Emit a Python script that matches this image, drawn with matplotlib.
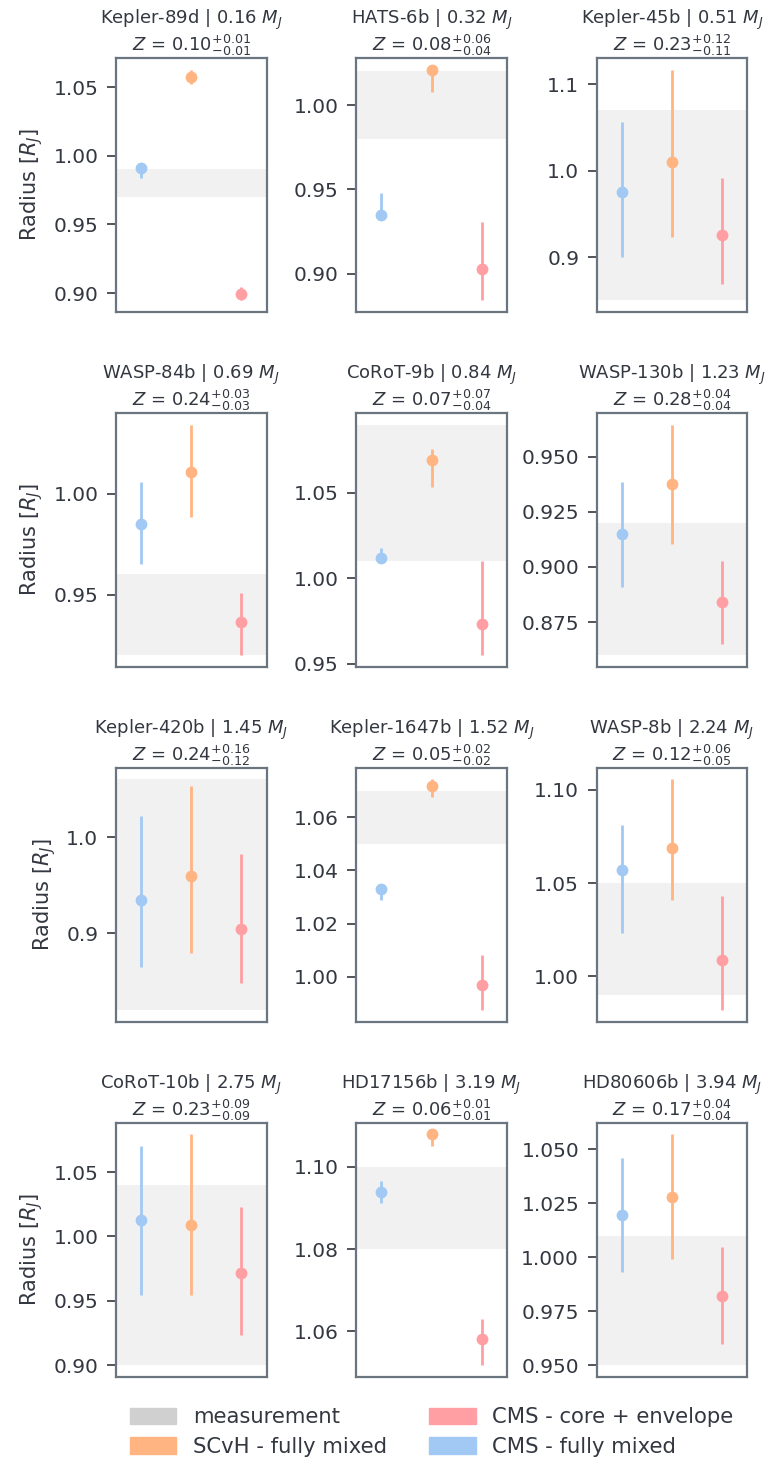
import numpy as np
import matplotlib
matplotlib.use("Agg")
import matplotlib.pyplot as plt
from matplotlib.patches import Patch
from matplotlib.ticker import MaxNLocator

# === DATA ===
planets = ["Kepler-89d", "HATS-6b", "Kepler-45b", "WASP-84b", "CoRoT-9b", "WASP-130b",
           "Kepler-420b", "Kepler-1647b", "WASP-8b", "CoRoT-10b", "HD17156b", "HD80606b"]
masses = [0.16, 0.32, 0.51, 0.69, 0.84, 1.23, 1.45, 1.52, 2.24, 2.75, 3.19, 3.94]
z_med = [0.10, 0.08, 0.23, 0.24, 0.07, 0.28, 0.24, 0.05, 0.12, 0.23, 0.06, 0.17]
z_up = [0.01, 0.06, 0.12, 0.03, 0.07, 0.04, 0.16, 0.02, 0.06, 0.09, 0.01, 0.04]
z_dn = [0.01, 0.04, 0.11, 0.03, 0.04, 0.04, 0.12, 0.02, 0.05, 0.09, 0.01, 0.04]

# measured radius and 1-sigma
r_meas = [0.98, 1.00, 0.96, 0.94, 1.05, 0.89, 0.94, 1.06, 1.02, 0.97, 1.09, 0.98]
r_meas_err = [0.01, 0.02, 0.11, 0.02, 0.04, 0.03, 0.12, 0.01, 0.03, 0.07, 0.01, 0.03]

# CMS - fully mixed: median, lower, upper
cms_mix = [0.991, 0.935, 0.975, 0.985, 1.012, 0.915, 0.935, 1.033, 1.057, 1.013, 1.094, 1.0196]
cms_mix_lo = [0.984, 0.935, 0.900, 0.965, 1.012, 0.891, 0.865, 1.0287, 1.0234, 0.9545, 1.0913, 0.993]
cms_mix_hi = [0.991, 0.948, 1.056, 1.006, 1.018, 0.9385, 1.0225, 1.033, 1.081, 1.0705, 1.0965, 1.046]

# SCvH - fully mixed
scvh_mix = [1.057, 1.021, 1.0105, 1.0109, 1.0692, 0.9376, 0.9595, 1.0716, 1.0686, 1.0086, 1.1079, 1.0277]
scvh_mix_lo = [1.0524, 1.0078, 0.9233, 0.9884, 1.0535, 0.9105, 0.880, 1.0677, 1.0407, 0.9545, 1.1052, 0.9992]
scvh_mix_hi = [1.0627, 1.021, 1.1172, 1.0342, 1.0759, 0.9645, 1.053, 1.0742, 1.1054, 1.0792, 1.1079, 1.0568]

# CMS - core + envelope
cms_core = [0.8995, 0.9028, 0.926, 0.9366, 0.9735, 0.8841, 0.9045, 0.9968, 1.0087, 0.9719, 1.0581, 0.9821]
cms_core_lo = [0.8947, 0.8842, 0.8686, 0.9204, 0.9549, 0.8652, 0.8484, 0.9874, 0.9819, 0.9234, 1.0518, 0.9597]
cms_core_hi = [0.9044, 0.9306, 0.9912, 0.9508, 1.0104, 0.9029, 0.9828, 1.0082, 1.0428, 1.0230, 1.063, 1.0045]

models = [
    ("CMS - fully mixed", "#a1c9f4", cms_mix, cms_mix_lo, cms_mix_hi),
    ("SCvH - fully mixed", "#ffb482", scvh_mix, scvh_mix_lo, scvh_mix_hi),
    ("CMS - core + envelope", "#ff9fa3", cms_core, cms_core_lo, cms_core_hi),
]

# === STYLE ===
spine_col = "#6b7580"
text_col = "#333740"
plt.rcParams["font.family"] = "DejaVu Sans"
plt.rcParams["text.color"] = text_col
plt.rcParams["axes.labelcolor"] = text_col
plt.rcParams["ytick.color"] = text_col
plt.rcParams["mathtext.fontset"] = "dejavusans"

fig, axes = plt.subplots(4, 3, figsize=(7.75, 14.62), dpi=100)
fig.subplots_adjust(left=0.1493, right=0.9643, top=0.9603, bottom=0.0583,
                    wspace=0.594, hspace=0.398)

for i, ax in enumerate(axes.flat):
    ax.axhspan(r_meas[i] - r_meas_err[i], r_meas[i] + r_meas_err[i],
               color="lightgray", alpha=0.3, lw=0, zorder=0)
    for j, (label, col, val, lo, hi) in enumerate(models):
        ax.plot([j, j], [lo[i], hi[i]], color=col, lw=2.0, solid_capstyle="butt", zorder=2)
        ax.plot(j, val[i], "o", color=col, ms=8.5, mec="none", zorder=3)
    ax.set_xlim(-0.5, 2.5)
    ax.set_xticks([])
    ax.yaxis.set_major_locator(MaxNLocator(5, steps=[1, 2, 2.5, 5, 10]))
    ax.tick_params(axis="y", labelsize=14.5, length=6.5, width=1.2, color=text_col, pad=6)
    for s in ax.spines.values():
        s.set_color(spine_col)
        s.set_linewidth(1.6)
    ax.set_title(f"{planets[i]} | {masses[i]:.2f} $M_J$\n"
                 f"$Z$ = {z_med[i]:.2f}$^{{+{z_up[i]:.2f}}}_{{-{z_dn[i]:.2f}}}$",
                 fontsize=13, color=text_col, pad=4, linespacing=1.05)
    if i % 3 == 0:
        ax.set_ylabel("Radius [$R_J$]", fontsize=15, labelpad=6)

handles = [Patch(color="#d0d0d0", label="measurement"),
           Patch(color="#ffb482", label="SCvH - fully mixed"),
           Patch(color="#ff9fa3", label="CMS - core + envelope"),
           Patch(color="#a1c9f4", label="CMS - fully mixed")]
fig.legend(handles=handles, ncol=2, loc="center", bbox_to_anchor=(0.557, 0.0205),
           frameon=False, fontsize=15.2, handlelength=2.2, handleheight=0.8,
           handletextpad=0.8, columnspacing=2.0, labelspacing=0.45)

fig.savefig("out.png", dpi=100)
